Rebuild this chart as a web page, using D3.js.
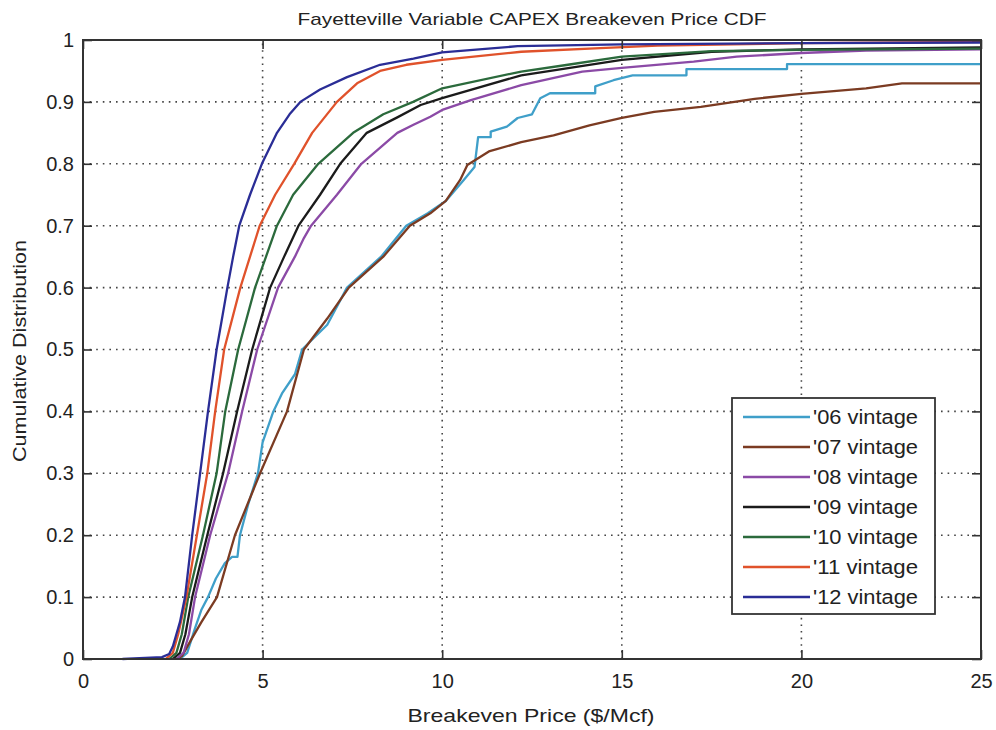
<!DOCTYPE html>
<html>
<head>
<meta charset="utf-8">
<script src="https://cdn.jsdelivr.net/npm/d3@7"></script>
<style>
  html, body { margin: 0; padding: 0; background: #fff; }
  svg { display: block; font-family: "Liberation Sans", Arial, sans-serif; }
</style>
</head>
<body>
<svg id="chart" width="996" height="730"></svg>
<script>
// Breakeven price CDF per vintage: [price $/Mcf, cumulative share]
const vintage06 = [[2.7,0],[2.9,0.01],[3.12,0.05],[3.3,0.08],[3.48,0.1],[3.7,0.13],[3.95,0.155],[4.15,0.165],[4.3,0.165],[4.37,0.2],[4.6,0.25],[4.87,0.3],[5.0,0.35],[5.3,0.4],[5.55,0.43],[5.9,0.46],[6.1,0.5],[6.8,0.54],[7.35,0.6],[8.3,0.65],[9.0,0.7],[9.6,0.72],[10.1,0.74],[10.6,0.774],[10.9,0.795],[11.0,0.843],[11.35,0.843],[11.35,0.852],[11.8,0.86],[12.1,0.874],[12.5,0.88],[12.73,0.906],[13.0,0.914],[14.26,0.914],[14.26,0.925],[14.77,0.935],[15.3,0.943],[16.8,0.943],[16.8,0.953],[19.6,0.953],[19.6,0.961],[25,0.961]];
const vintage07 = [[2.6,0],[2.76,0.005],[3.0,0.03],[3.3,0.06],[3.73,0.1],[4.23,0.2],[4.93,0.3],[5.68,0.4],[6.15,0.5],[6.8,0.55],[7.4,0.6],[8.36,0.65],[9.1,0.7],[9.67,0.72],[10.1,0.74],[10.5,0.774],[10.7,0.798],[11.3,0.82],[12.2,0.835],[13.1,0.846],[14.1,0.862],[15.0,0.874],[15.9,0.884],[17.2,0.892],[18.7,0.905],[20.0,0.913],[21.8,0.922],[22.8,0.93],[25,0.93]];
const vintage08 = [[2.6,0],[2.8,0.01],[2.95,0.04],[3.12,0.1],[3.54,0.2],[4.04,0.3],[4.43,0.4],[4.85,0.5],[5.43,0.6],[5.9,0.65],[6.15,0.68],[6.35,0.7],[7.07,0.75],[7.75,0.8],[8.75,0.85],[9.2,0.863],[9.67,0.876],[10.0,0.887],[10.8,0.903],[12.2,0.927],[13.9,0.949],[15.0,0.955],[17.0,0.965],[18.2,0.973],[20.0,0.979],[21.8,0.983],[25,0.985]];
const vintage09 = [[2.5,0],[2.7,0.01],[2.85,0.04],[3.04,0.1],[3.46,0.2],[3.9,0.3],[4.29,0.4],[4.71,0.5],[5.21,0.6],[5.6,0.65],[6.0,0.7],[6.6,0.75],[7.16,0.8],[7.9,0.85],[8.75,0.875],[9.4,0.895],[10.0,0.906],[12.2,0.943],[15.0,0.968],[17.5,0.981],[20.0,0.985],[25,0.988]];
const vintage10 = [[2.4,0],[2.6,0.01],[2.75,0.04],[2.93,0.1],[3.34,0.2],[3.72,0.3],[3.96,0.4],[4.32,0.5],[4.79,0.6],[5.4,0.7],[5.85,0.75],[6.55,0.8],[7.52,0.85],[8.36,0.88],[9.19,0.9],[10.0,0.922],[12.2,0.949],[13.5,0.96],[15.0,0.973],[17.5,0.982],[20.0,0.984],[25,0.986]];
const vintage11 = [[2.3,0],[2.5,0.01],[2.65,0.04],[2.88,0.1],[3.17,0.2],[3.46,0.3],[3.68,0.4],[3.93,0.5],[4.38,0.6],[4.92,0.7],[5.35,0.75],[5.88,0.8],[6.38,0.85],[7.07,0.9],[7.63,0.93],[8.27,0.95],[9.0,0.96],[10.0,0.968],[12.2,0.981],[14.4,0.987],[16.0,0.991],[20.0,0.995],[25,0.997]];
const vintage12 = [[1.1,0],[2.2,0.003],[2.4,0.008],[2.5,0.02],[2.6,0.04],[2.7,0.06],[2.84,0.1],[3.04,0.2],[3.26,0.3],[3.48,0.4],[3.72,0.5],[4.02,0.6],[4.18,0.65],[4.35,0.7],[4.65,0.75],[4.98,0.8],[5.4,0.85],[5.75,0.88],[6.05,0.9],[6.6,0.92],[7.35,0.94],[8.27,0.96],[9.2,0.97],[10.0,0.98],[12.1,0.99],[15.0,0.993],[20.0,0.995],[25,0.996]];

const seriesNames = ["'06 vintage", "'07 vintage", "'08 vintage", "'09 vintage", "'10 vintage", "'11 vintage", "'12 vintage"];
const seriesColors = ["#3f9fc9", "#7b3b22", "#8b4aa6", "#1b1b1b", "#2b6a3c", "#e0522b", "#2a2d96"];
const seriesData = [vintage06, vintage07, vintage08, vintage09, vintage10, vintage11, vintage12];

const xTicks = [0, 5, 10, 15, 20, 25];
const yTicks = [0, 0.1, 0.2, 0.3, 0.4, 0.5, 0.6, 0.7, 0.8, 0.9, 1];

const titleText = "Fayetteville Variable CAPEX Breakeven Price CDF";
const xLabelText = "Breakeven Price ($/Mcf)";
const yLabelText = "Cumulative Distribution";

const svg = d3.select("#chart");
const plot = { left: 83, right: 981, top: 40, bottom: 659 };

const x = d3.scaleLinear().domain([0, 25]).range([plot.left, plot.right]);
const y = d3.scaleLinear().domain([0, 1]).range([plot.bottom, plot.top]);

const axisColor = "#333";

// dotted grid
const grid = svg.append("g").attr("stroke", "#444").attr("stroke-width", 1.6)
  .attr("stroke-dasharray", "1.6,5");
grid.selectAll("line.gx").data(xTicks.slice(1, -1)).join("line")
  .attr("x1", d => x(d)).attr("x2", d => x(d))
  .attr("y1", plot.bottom).attr("y2", plot.top);
grid.selectAll("line.gy").data(yTicks.slice(1, -1)).join("line")
  .attr("x1", plot.left).attr("x2", plot.right)
  .attr("y1", d => y(d)).attr("y2", d => y(d));

// curves
const line = d3.line().x(d => x(d[0])).y(d => y(d[1]));
const curves = svg.append("g").attr("fill", "none").attr("stroke-width", 2.3)
  .attr("stroke-linejoin", "round");
seriesData.forEach((s, i) => {
  curves.append("path").datum(s).attr("d", line).attr("stroke", seriesColors[i]);
});

// axes with inward ticks on all four sides
const tickLen = 9;
const axB = svg.append("g").attr("transform", `translate(0,${plot.bottom})`)
  .call(d3.axisBottom(x).tickValues(xTicks).tickSizeInner(-tickLen).tickSizeOuter(0).tickPadding(12).tickFormat(d3.format("d")));
const axT = svg.append("g").attr("transform", `translate(0,${plot.top})`)
  .call(d3.axisTop(x).tickValues(xTicks).tickSizeInner(-tickLen).tickSizeOuter(0).tickFormat(""));
const axL = svg.append("g").attr("transform", `translate(${plot.left},0)`)
  .call(d3.axisLeft(y).tickValues(yTicks).tickSizeInner(-tickLen).tickSizeOuter(0).tickPadding(9).tickFormat(d => d === 0 || d === 1 ? d3.format("d")(d) : d3.format(".1f")(d)));
const axR = svg.append("g").attr("transform", `translate(${plot.right},0)`)
  .call(d3.axisRight(y).tickValues(yTicks).tickSizeInner(-tickLen).tickSizeOuter(0).tickFormat(""));

[axB, axT, axL, axR].forEach(a => {
  a.select(".domain").remove();
  a.selectAll(".tick line").attr("stroke", axisColor).attr("stroke-width", 1.6);
  a.selectAll(".tick text").attr("fill", "#222").attr("font-size", 20)
    .attr("font-family", "'Liberation Sans', Arial, sans-serif");
});
axB.selectAll(".tick text").attr("dy", "0.85em");

// frame
svg.append("rect")
  .attr("x", plot.left).attr("y", plot.top)
  .attr("width", plot.right - plot.left).attr("height", plot.bottom - plot.top)
  .attr("fill", "none").attr("stroke", axisColor).attr("stroke-width", 2);

// titles
svg.append("text").attr("x", 532).attr("y", 25).attr("text-anchor", "middle")
  .attr("font-size", 17).attr("fill", "#222")
  .attr("textLength", 469).attr("lengthAdjust", "spacingAndGlyphs").text(titleText);
svg.append("text").attr("x", 531).attr("y", 722).attr("text-anchor", "middle")
  .attr("font-size", 19).attr("fill", "#222")
  .attr("textLength", 247).attr("lengthAdjust", "spacingAndGlyphs").text(xLabelText);
svg.append("text").attr("transform", "translate(26,351) rotate(-90)").attr("text-anchor", "middle")
  .attr("font-size", 19).attr("fill", "#222")
  .attr("textLength", 222).attr("lengthAdjust", "spacingAndGlyphs").text(yLabelText);

// legend
const legend = svg.append("g");
legend.append("rect").attr("x", 732).attr("y", 398).attr("width", 203).attr("height", 216)
  .attr("fill", "#fff").attr("stroke", axisColor).attr("stroke-width", 1.8);
seriesNames.forEach((name, i) => {
  const ly = 417 + i * 30;
  legend.append("line").attr("x1", 743).attr("x2", 810).attr("y1", ly).attr("y2", ly)
    .attr("stroke", seriesColors[i]).attr("stroke-width", 2.5);
  legend.append("text").attr("x", 813).attr("y", ly + 7).attr("font-size", 20)
    .attr("fill", "#222").attr("textLength", 105).attr("lengthAdjust", "spacingAndGlyphs")
    .text(name);
});
</script>
</body>
</html>
